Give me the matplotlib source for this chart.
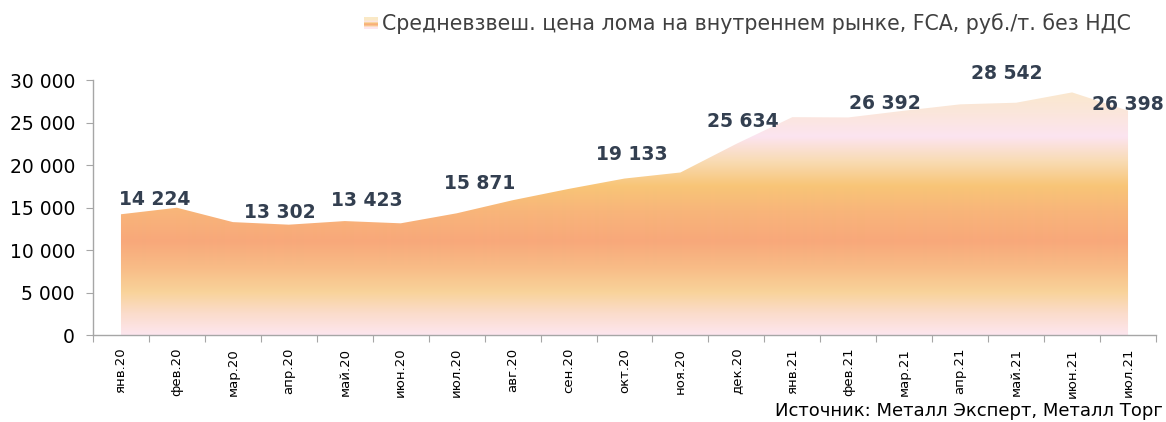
import matplotlib
matplotlib.use("Agg")
import matplotlib.pyplot as plt
import numpy as np
from matplotlib.colors import LinearSegmentedColormap

months = ["янв.20", "фев.20", "мар.20", "апр.20", "май.20", "июн.20", "июл.20",
          "авг.20", "сен.20", "окт.20", "ноя.20", "дек.20", "янв.21", "фев.21",
          "мар.21", "апр.21", "май.21", "июн.21", "июл.21"]
price = [14224, 14990, 13302, 13000, 13423, 13160, 14335, 15871, 17200, 18420,
         19133, 22500, 25634, 25600, 26392, 27140, 27330, 28542, 26398]
# which points carry a value label
labeled = [0, 2, 4, 7, 10, 12, 14, 17, 18]
# label offsets in pixels (dx, dy) from the point
label_off = [(34, 15), (47, 10), (22, 21), (-33, 17), (-49, 18),
             (-50, -4), (-19, 7), (-65, 19), (0, 6)]

legend_text = "Средневзвеш. цена лома на внутреннем рынке, FCA, руб./т. без НДС"
source_text = "Источник: Металл Эксперт, Металл Торг"

# vertical gradient stops (value on the y axis, colour)
grad = [(0, "#fde6ee"), (2500, "#fbdccb"), (5000, "#f9d39a"), (8000, "#f8bb86"),
        (11000, "#f8a87a"), (14500, "#f8b57a"), (17500, "#f8c577"),
        (20500, "#f9dcb6"), (23300, "#fce4f0"), (26000, "#fbe6dc"),
        (30000, "#fae9c6")]

W, H = 1166, 422
fig = plt.figure(figsize=(W / 100, H / 100), dpi=100)
ax = fig.add_axes([93 / W, 1 - 335.3 / H, (1156 - 93) / W, (335.3 - 80) / H])

ymax = 30000
cmap = LinearSegmentedColormap.from_list(
    "scrap", [(v / ymax, c) for v, c in grad])

x = np.arange(len(months))
poly = ax.fill_between(x, 0, price, facecolor="none", edgecolor="none")
im = ax.imshow(np.linspace(0, 1, 512).reshape(-1, 1), cmap=cmap, origin="lower",
               extent=[-0.5, len(months) - 0.5, 0, ymax], aspect="auto",
               interpolation="bicubic", zorder=1)
im.set_clip_path(poly.get_paths()[0], transform=ax.transData)

ax.set_xlim(-0.5, len(months) - 0.5)
ax.set_ylim(0, ymax)

for i, (dx, dy) in zip(labeled, label_off):
    ax.annotate(f"{price[i]:,}".replace(",", " "), (x[i], price[i]),
                xytext=(dx, dy), textcoords="offset pixels",
                ha="center", va="center", fontsize=13.5, fontweight="bold",
                color="#333f50", annotation_clip=False)

# axes styling
for s in ["top", "right"]:
    ax.spines[s].set_visible(False)
for s in ["left", "bottom"]:
    ax.spines[s].set_color("#a6a6a6")
    ax.spines[s].set_linewidth(1.0)

ax.set_yticks(np.arange(0, ymax + 1, 5000))
ax.set_yticklabels([f"{v:,}".replace(",", " ") for v in range(0, ymax + 1, 5000)])
ax.tick_params(axis="y", length=5, color="#a6a6a6", labelsize=13.5, pad=8)

ax.set_xticks(np.arange(-0.5, len(months), 1.0))
ax.set_xticklabels([])
ax.set_xticks(x, minor=True)
ax.set_xticklabels(months, minor=True, rotation=90, va="top", ha="center")
ax.tick_params(axis="x", which="major", length=5, color="#a6a6a6")
ax.tick_params(axis="x", which="minor", length=0, labelsize=9.5, pad=9)

# legend: gradient swatch + text
lax = fig.add_axes([364 / W, 1 - 29 / H, 13 / W, 12 / H])
lax.imshow(np.linspace(0, 1, 64).reshape(-1, 1), cmap=cmap, origin="lower",
           aspect="auto", extent=[0, 1, 0, 1], clim=(0.15, 0.75))
lax.axis("off")
fig.text(382 / W, 1 - 24 / H, legend_text, fontsize=14.8, va="center", ha="left",
         color="#404040")

fig.text(1163 / W, 1 - 411 / H, source_text, fontsize=13, va="center",
         ha="right", color="black")

fig.savefig("out.png", dpi=100)
